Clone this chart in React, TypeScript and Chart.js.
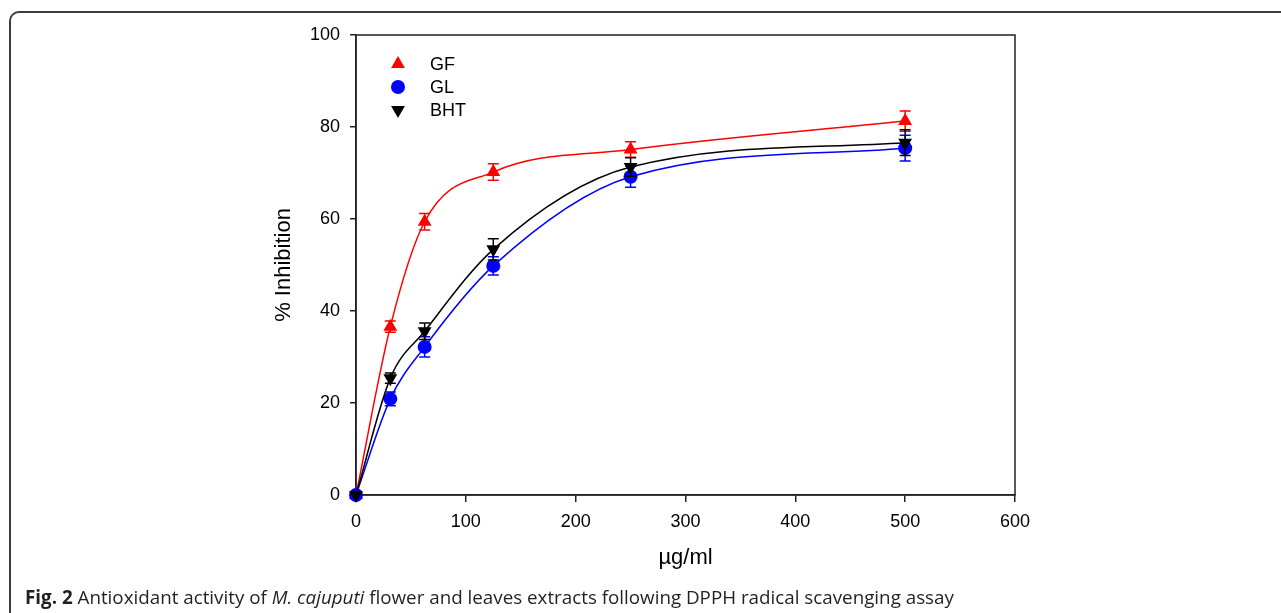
import React, { useEffect, useRef } from 'react';
import { Chart, registerables } from 'chart.js';

Chart.register(...registerables);

// ---- data ----
const concentrations = [0, 31.25, 62.5, 125, 250, 500];
const seriesNames = ['GF', 'GL', 'BHT'];
const gfValues = [0, 36.6, 59.4, 70.2, 75.1, 81.3];
const gfErrors = [0, 1.2, 1.8, 1.8, 1.7, 2.2];
const glValues = [0, 20.9, 32.2, 49.8, 69.2, 75.4];
const glErrors = [0, 1.5, 2.2, 2.0, 2.3, 2.8];
const bhtValues = [0, 25.4, 35.6, 53.4, 71.3, 76.6];
const bhtErrors = [0, 1.1, 1.8, 2.3, 2.0, 2.8];
const xAxisTitle = 'µg/ml';
const yAxisTitle = '% Inhibition';

const FONT = "'Liberation Sans', Arial, sans-serif";

type Series = {
  name: string;
  values: number[];
  errors: number[];
  color: string;
  style: string;
  rotation: number;
  radius: number;
  order: number;
};

const series: Series[] = [
  { name: seriesNames[0], values: gfValues, errors: gfErrors, color: '#ff0000', style: 'triangle', rotation: 0, radius: 8, order: 2 },
  { name: seriesNames[1], values: glValues, errors: glErrors, color: '#0000ff', style: 'circle', rotation: 0, radius: 7, order: 1 },
  { name: seriesNames[2], values: bhtValues, errors: bhtErrors, color: '#000000', style: 'triangle', rotation: 180, radius: 8, order: 0 },
];

function drawMarker(ctx: CanvasRenderingContext2D, s: Series, x: number, y: number) {
  ctx.save();
  ctx.fillStyle = s.color;
  ctx.beginPath();
  if (s.style === 'circle') {
    ctx.arc(x, y, s.radius, 0, Math.PI * 2);
  } else {
    let rad = (s.rotation * Math.PI) / 180;
    const r = s.radius;
    ctx.moveTo(x + Math.sin(rad) * r, y - Math.cos(rad) * r);
    rad += (2 * Math.PI) / 3;
    ctx.lineTo(x + Math.sin(rad) * r, y - Math.cos(rad) * r);
    rad += (2 * Math.PI) / 3;
    ctx.lineTo(x + Math.sin(rad) * r, y - Math.cos(rad) * r);
    ctx.closePath();
  }
  ctx.fill();
  ctx.restore();
}

const framePlugin = {
  id: 'frameBox',
  beforeDatasetsDraw(chart: any) {
    const { ctx, chartArea } = chart;
    ctx.save();
    ctx.strokeStyle = '#222';
    ctx.lineWidth = 1.5;
    ctx.strokeRect(chartArea.left, chartArea.top, chartArea.right - chartArea.left, chartArea.bottom - chartArea.top);
    ctx.restore();
  },
};

const errorBarPlugin = {
  id: 'errorBars',
  afterDatasetDraw(chart: any, args: any) {
    const s = series[args.index];
    if (!s) return;
    const { ctx } = chart;
    const xs = chart.scales.x;
    const ys = chart.scales.y;
    ctx.save();
    ctx.strokeStyle = s.color;
    ctx.lineWidth = 1.5;
    concentrations.forEach((c, i) => {
      const e = s.errors[i];
      if (!e) return;
      const px = xs.getPixelForValue(c);
      const top = ys.getPixelForValue(s.values[i] + e);
      const bot = ys.getPixelForValue(s.values[i] - e);
      ctx.beginPath();
      ctx.moveTo(px, top);
      ctx.lineTo(px, bot);
      ctx.moveTo(px - 5.5, top);
      ctx.lineTo(px + 5.5, top);
      ctx.moveTo(px - 5.5, bot);
      ctx.lineTo(px + 5.5, bot);
      ctx.stroke();
    });
    ctx.restore();
  },
};

const legendPlugin = {
  id: 'innerLegend',
  afterDraw(chart: any) {
    const { ctx, chartArea } = chart;
    ctx.save();
    ctx.font = `18px ${FONT}`;
    ctx.fillStyle = '#000';
    ctx.textBaseline = 'middle';
    ctx.textAlign = 'left';
    series.forEach((s, i) => {
      const y = chartArea.top + 29 + i * 23;
      drawMarker(ctx, s, chartArea.left + 42, y);
      ctx.fillText(s.name, chartArea.left + 74, y + 1);
    });
    ctx.restore();
  },
};

export default function App() {
  const canvasRef = useRef<HTMLCanvasElement | null>(null);

  useEffect(() => {
    if (!canvasRef.current) return;
    const chart = new Chart(canvasRef.current, {
      type: 'line',
      data: {
        datasets: series.map((s) => ({
          label: s.name,
          data: concentrations.map((c, i) => ({ x: c, y: s.values[i] })),
          borderColor: s.color,
          backgroundColor: s.color,
          borderWidth: 1.5,
          pointStyle: s.style as any,
          rotation: s.rotation,
          pointRadius: s.radius,
          pointHoverRadius: s.radius,
          pointBorderWidth: 0,
          pointBackgroundColor: s.color,
          cubicInterpolationMode: 'monotone' as const,
          fill: false,
          clip: false as any,
          order: s.order,
        })),
      },
      options: {
        animation: false,
        responsive: false,
        maintainAspectRatio: false,
        events: [],
        layout: { padding: { left: 271, right: 266, top: 35, bottom: 42 } },
        plugins: {
          legend: { display: false },
          tooltip: { enabled: false },
        },
        scales: {
          x: {
            type: 'linear',
            min: 0,
            max: 600,
            ticks: { stepSize: 100, color: '#000', font: { family: FONT, size: 18 }, padding: 9, maxRotation: 0 },
            grid: { drawOnChartArea: false, drawTicks: true, tickLength: 7, color: '#222', lineWidth: 1.5 },
            border: { display: true, color: '#222', width: 1.5 },
            title: { display: true, text: xAxisTitle, color: '#000', font: { family: FONT, size: 22 }, padding: 0 },
            afterFit: (s: any) => { s.height = 76; },
          },
          y: {
            type: 'linear',
            min: 0,
            max: 100,
            ticks: { stepSize: 20, color: '#000', font: { family: FONT, size: 18 }, padding: 10 },
            grid: { drawOnChartArea: false, drawTicks: true, tickLength: 6, color: '#222', lineWidth: 1.5 },
            border: { display: true, color: '#222', width: 1.5 },
            title: { display: true, text: yAxisTitle, color: '#000', font: { family: FONT, size: 22 }, padding: 0 },
            afterFit: (s: any) => { s.width = 85; },
          },
        },
      },
      plugins: [framePlugin, errorBarPlugin, legendPlugin],
    });
    return () => chart.destroy();
  }, []);

  return (
    <div style={{ position: 'absolute', left: 0, top: 0, width: 1281, height: 613, background: '#fff', overflow: 'hidden' }}>
      <div
        style={{
          position: 'absolute',
          left: 9,
          top: 11,
          width: 1400,
          height: 800,
          borderTop: '2px solid #3c3c3c',
          borderLeft: '2px solid #3c3c3c',
          borderTopLeftRadius: 10,
          boxSizing: 'border-box',
        }}
      />
      <canvas ref={canvasRef} width={1281} height={613} style={{ position: 'absolute', left: 0, top: 0, width: 1281, height: 613 }} />
      <div
        style={{
          position: 'absolute',
          left: 25,
          top: 585,
          fontFamily: "'Open Sans', sans-serif",
          fontSize: 18.8,
          lineHeight: '24px',
          color: '#231f20',
          whiteSpace: 'nowrap',
        }}
      >
        <b>Fig. 2</b> Antioxidant activity of <i>M. cajuputi</i> flower and leaves extracts following DPPH radical scavenging assay
      </div>
    </div>
  );
}
